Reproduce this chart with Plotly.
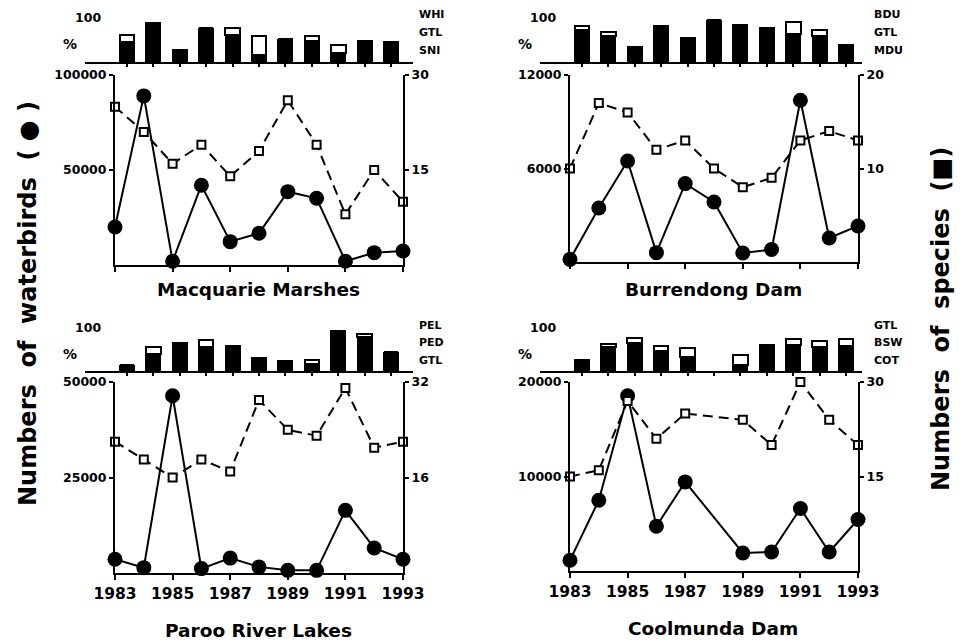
import plotly.graph_objects as go

# ---- data -------------------------------------------------------------
years = [1983, 1984, 1985, 1986, 1987, 1988, 1989, 1990, 1991, 1992, 1993]
year_ticks = [1983, 1985, 1987, 1989, 1991, 1993]

macquarie_birds = [20000, 89000, 2000, 42000, 12300, 16700, 38600, 35100, 2000, 6500, 7400]
macquarie_species = [25, 21, 16, 19, 14, 18, 26, 19, 8, 15, 10]
macquarie_dom1 = [44, 83, 27, 72, 58, 17, 49, 46, 20, 46, 44]
macquarie_dom2 = [14, 0, 0, 0, 14, 39, 0, 10, 18, 0, 0]
macquarie_codes = ["WHI", "GTL", "SNI"]

burrendong_birds = [170, 3470, 6480, 600, 5030, 3850, 580, 800, 10380, 1540, 2310]
burrendong_species = [10, 17, 16, 12, 13, 10, 8, 9, 13, 14, 13]
burrendong_dom1 = [69, 57, 33, 78, 52, 89, 80, 73, 60, 56, 38]
burrendong_dom2 = [9, 7, 0, 0, 0, 0, 0, 0, 25, 12, 0]
burrendong_codes = ["BDU", "GTL", "MDU"]

paroo_birds = [3600, 1400, 46400, 1150, 3900, 1600, 700, 700, 16400, 6550, 3600]
paroo_species = [22, 19, 16, 19, 17, 29, 24, 23, 31, 21, 22]
paroo_dom1 = [14, 39, 62, 54, 56, 30, 23, 18, 88, 74, 42]
paroo_dom2 = [0, 15, 0, 15, 0, 0, 0, 7, 0, 7, 0]
paroo_codes = ["PEL", "PED", "GTL"]

coolmunda_birds = [1130, 7490, 18550, 4740, 9430, None, 1910, 2010, 6610, 2010, 5450]
coolmunda_species = [15, 16, 27, 21, 25, None, 24, 20, 30, 24, 20]
coolmunda_dom1 = [26, 53, 61, 44, 32, None, 15, 53, 58, 53, 56]
coolmunda_dom2 = [0, 7, 12, 12, 20, None, 22, 5, 13, 13, 14]
coolmunda_codes = ["GTL", "BSW", "COT"]

# left / right axis ranges and tick labels per site
left_max = [100000, 12000, 50000, 20000]
left_ticks = [["50000", "100000"], ["6000", "12000"], ["25000", "50000"], ["10000", "20000"]]
right_max = [30, 20, 32, 30]

sites = [
    dict(title="Macquarie Marshes", birds=macquarie_birds, species=macquarie_species,
         d1=macquarie_dom1, d2=macquarie_dom2, codes=macquarie_codes),
    dict(title="Burrendong Dam", birds=burrendong_birds, species=burrendong_species,
         d1=burrendong_dom1, d2=burrendong_dom2, codes=burrendong_codes),
    dict(title="Paroo River Lakes", birds=paroo_birds, species=paroo_species,
         d1=paroo_dom1, d2=paroo_dom2, codes=paroo_codes),
    dict(title="Coolmunda Dam", birds=coolmunda_birds, species=coolmunda_species,
         d1=coolmunda_dom1, d2=coolmunda_dom2, codes=coolmunda_codes),
]

# ---- layout geometry (pixels) ----------------------------------------
W, H = 962, 643
FONT = "DejaVu Sans"
panels = [
    dict(x0=115, x1=403, mt=75, mb=265, bt=15, bb=63, base0=85, base1=413, bottom=False, title_y=290),
    dict(x0=570, x1=858, mt=75, mb=262, bt=15, bb=63, base0=540, base1=862, bottom=False, title_y=290),
    dict(x0=115, x1=403, mt=382, mb=573, bt=325, bb=372, base0=85, base1=413, bottom=True, title_y=630),
    dict(x0=570, x1=858, mt=382, mb=571, bt=325, bb=372, base0=540, base1=862, bottom=True, title_y=628),
]


def fx(p):
    return p / W


def fy(p):
    return 1 - p / H


def txt(text, x, y, size, anchor="center", angle=0):
    return dict(text=text, xref="paper", yref="paper", showarrow=False,
                x=fx(x), y=fy(y), xanchor=anchor, yanchor="middle", textangle=angle,
                font=dict(size=size, family=FONT, weight="bold", color="black"))


fig = go.Figure()
layout = dict(
    width=W, height=H, margin=dict(l=0, r=0, t=0, b=0, autoexpand=False),
    paper_bgcolor="white", plot_bgcolor="rgba(0,0,0,0)",
    showlegend=False, barmode="stack", bargap=0.45,
    font=dict(family=FONT, color="black", size=12, weight="bold"),
)
annotations = []
shapes = []

for i, (site, pan) in enumerate(zip(sites, panels)):
    xm = 2 * i + 1          # main x axis
    xb = 2 * i + 2          # bar x axis
    yl = 3 * i + 1          # left y axis (birds)
    yr = 3 * i + 2          # right y axis (species)
    yb = 3 * i + 3          # bar y axis (%)

    def nm(prefix, n):
        return prefix if n == 1 else f"{prefix}{n}"

    xdom = [fx(pan["x0"]), fx(pan["x1"])]
    ydom_main = [fy(pan["mb"]), fy(pan["mt"])]
    ydom_bar = [fy(pan["bb"]), fy(pan["bt"])]

    layout[nm("xaxis", xm)] = dict(
        domain=xdom, range=[1983, 1993], anchor=nm("y", yl), automargin=False,
        showline=True, linecolor="black", linewidth=2, showgrid=False, zeroline=False,
        ticks="outside", ticklen=5, tickwidth=2, tickcolor="black",
        tickvals=year_ticks, showticklabels=pan["bottom"],
        tickfont=dict(size=15.5, family=FONT, weight="bold"),
    )
    layout[nm("yaxis", yl)] = dict(
        domain=ydom_main, range=[0, left_max[i]], anchor=nm("x", xm), automargin=False,
        showline=True, linecolor="black", linewidth=2, showgrid=False, zeroline=False,
        ticks="outside", ticklen=4, tickwidth=2, tickcolor="black",
        tickvals=[left_max[i] / 2, left_max[i]], ticktext=left_ticks[i],
        tickfont=dict(size=12.5, family=FONT, weight="bold"),
    )
    layout[nm("yaxis", yr)] = dict(
        domain=ydom_main, range=[0, right_max[i]], anchor=nm("x", xm), automargin=False,
        overlaying=nm("y", yl), side="right",
        showline=True, linecolor="black", linewidth=2, showgrid=False, zeroline=False,
        ticks="outside", ticklen=4, tickwidth=2, tickcolor="black",
        tickvals=[right_max[i] / 2, right_max[i]],
        tickfont=dict(size=12.5, family=FONT, weight="bold"),
    )
    layout[nm("xaxis", xb)] = dict(
        domain=xdom, range=[1983 - 0.45, 1993 + 0.45], anchor=nm("y", yb), automargin=False,
        showline=False, showgrid=False, zeroline=False,
        ticks="outside", ticklen=3, tickwidth=2, tickcolor="black",
        tickvals=years, showticklabels=False,
    )
    layout[nm("yaxis", yb)] = dict(
        domain=ydom_bar, range=[0, 100], anchor=nm("x", xb), automargin=False,
        showline=False, showgrid=False, zeroline=False, showticklabels=False, ticks="",
    )

    # percentage bars of the dominant species
    fig.add_trace(go.Bar(
        x=years, y=site["d1"], xaxis=nm("x", xb), yaxis=nm("y", yb),
        marker=dict(color="black", line=dict(color="black", width=1.5)), width=0.55,
    ))
    fig.add_trace(go.Bar(
        x=years, y=site["d2"], xaxis=nm("x", xb), yaxis=nm("y", yb),
        marker=dict(color="white", line=dict(color="black", width=2)), width=0.55,
    ))

    # number of species: dashed line with open squares
    fig.add_trace(go.Scatter(
        x=years, y=site["species"], xaxis=nm("x", xm), yaxis=nm("y", yr),
        mode="lines+markers", connectgaps=True, cliponaxis=False,
        line=dict(color="black", width=2, dash="10px,6px"),
        marker=dict(symbol="square", size=8, color="white", line=dict(color="black", width=2)),
    ))
    # number of waterbirds: solid line with filled circles
    fig.add_trace(go.Scatter(
        x=years, y=site["birds"], xaxis=nm("x", xm), yaxis=nm("y", yl),
        mode="lines+markers", connectgaps=True, cliponaxis=False,
        line=dict(color="black", width=2),
        marker=dict(symbol="circle", size=15, color="black"),
    ))

    # bar baseline
    shapes.append(dict(type="line", xref="paper", yref="paper",
                       x0=fx(pan["base0"]), x1=fx(pan["base1"]),
                       y0=fy(pan["bb"]), y1=fy(pan["bb"]),
                       line=dict(color="black", width=2)))

    # "100" and "%" for the bar scale
    annotations.append(txt("100", pan["x0"] - 27, pan["bt"] + 2, 12.5))
    annotations.append(txt("%", pan["x0"] - 45, pan["bt"] + 29, 14))
    # species codes
    for k, code in enumerate(site["codes"]):
        annotations.append(txt(code, pan["x1"] + 14, pan["bt"] + k * 17.5, 11, anchor="left"))
    # site name
    annotations.append(txt(site["title"], (pan["x0"] + pan["x1"]) / 2 - 1, pan["title_y"], 18.5))

annotations.append(txt("Numbers  of  waterbirds  ( ● )", 28, 304, 24, angle=-90))
annotations.append(txt("Numbers  of  species  (■)", 941, 319, 24, angle=-90))

layout["annotations"] = annotations
layout["shapes"] = shapes
fig.update_layout(**layout)
fig.write_html("out.html")
